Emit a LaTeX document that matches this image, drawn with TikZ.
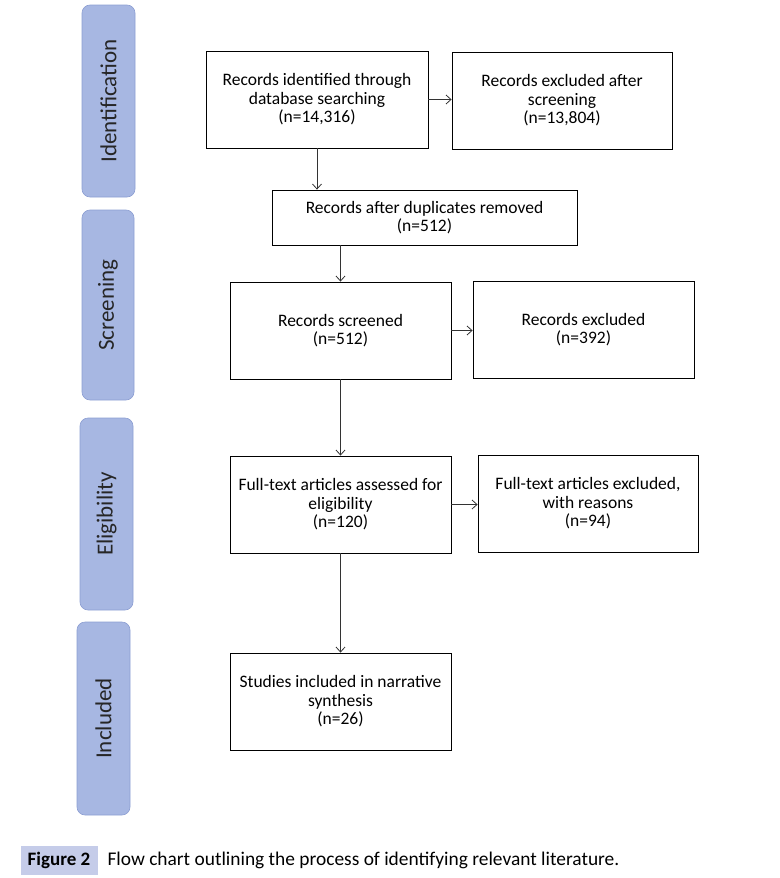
\documentclass[tikz,border=0pt]{standalone}
\usepackage{fontspec}
\setmainfont{Carlito}
\usepackage{tikz}
\usetikzlibrary{arrows.meta,positioning,calc}
\definecolor{barblue}{RGB}{167,183,226}
\definecolor{baredge}{RGB}{140,158,210}
\definecolor{capblue}{RGB}{197,204,233}
\tikzset{
  box/.style = {draw, line width = .8pt, align = center, font = \fontsize{17.5}{18.5}\selectfont},
  bar/.style = {fill = barblue, draw = baredge, rounded corners = 8pt, line width = .6pt,
                font = \fontsize{23}{27}\selectfont, text = black!85},
  flow/.style = {-{Straight Barb[length = 5pt, width = 9pt]}, line width = .8pt, black!80}
}
\begin{document}
\begin{tikzpicture}[x = 1pt, y = -1pt]
  \useasboundingbox (0,0) rectangle (779,878);
  % phase bars
  \node[bar, rotate = 90, minimum width = 192pt, minimum height = 53pt] (id) at (108.5,101) {Identification};
  \node[bar, rotate = 90, minimum width = 190pt, minimum height = 52pt] (sc) at (108,305) {Screening};
  \node[bar, rotate = 90, minimum width = 192pt, minimum height = 53pt] (el) at (106.5,514) {Eligibility};
  \node[bar, rotate = 90, minimum width = 193pt, minimum height = 53pt] (in) at (103.5,718.5) {Included};
  % flow boxes
  \node[box, minimum width = 222pt, minimum height = 97pt] (ident) at (317,99.5) {Records identified through\\database searching\\(n=14,316)};
  \node[box, minimum width = 220pt, minimum height = 97pt] (exscr) at (562,100.5) {Records excluded after\\screening\\(n=13,804)};
  \node[box, minimum width = 305pt, minimum height = 55pt] (dup) at (424.5,217.5) {Records after duplicates removed\\(n=512)};
  \node[box, minimum width = 221pt, minimum height = 97pt] (scr) at (340.5,330.5) {Records screened\\(n=512)};
  \node[box, minimum width = 221pt, minimum height = 97pt] (excl) at (583.5,329.5) {Records excluded\\(n=392)};
  \node[box, minimum width = 221pt, minimum height = 97pt] (full) at (340.5,504.5) {Full-text articles assessed for\\eligibility\\(n=120)};
  \node[box, minimum width = 220pt, minimum height = 97pt] (fullex) at (588,503.5) {Full-text articles excluded,\\with reasons\\(n=94)};
  \node[box, minimum width = 221pt, minimum height = 97pt] (incl) at (340.5,701.5) {Studies included in narrative\\synthesis\\(n=26)};
  % connectors
  \draw[flow] (ident.east) -- (ident.east -| exscr.west);
  \draw[flow] (ident.south) -- (ident.south |- dup.north);
  \draw[flow] (dup.south -| scr.north) -- (scr.north);
  \draw[flow] (scr.east) -- (scr.east -| excl.west);
  \draw[flow] (scr.south) -- (full.north);
  \draw[flow] (full.east) -- (full.east -| fullex.west);
  \draw[flow] (full.south) -- (incl.north);
  % caption
  \node[fill = capblue, minimum width = 77pt, minimum height = 29pt, font = \fontsize{19}{22}\selectfont\bfseries] (fig) at (59,860.5) {Figure 2};
  \node[anchor = west, font = \fontsize{19.4}{22}\selectfont] (cap) at (104,860.5) {Flow chart outlining the process of identifying relevant literature.};
\end{tikzpicture}
\end{document}
